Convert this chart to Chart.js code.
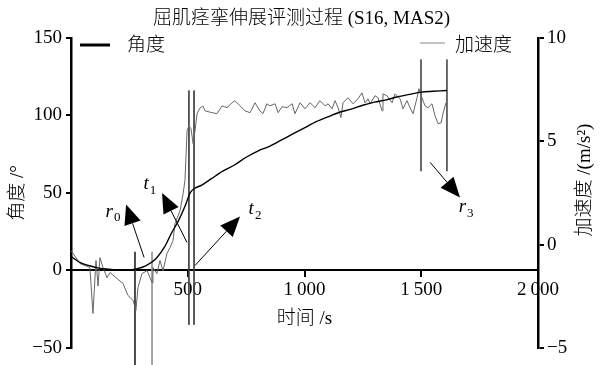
<!DOCTYPE html>
<html>
<head>
<meta charset="utf-8">
<script src="https://cdn.jsdelivr.net/npm/chart.js@4.4.1/dist/chart.umd.min.js"></script>
<style>
  body { margin: 0; background: #fff; }
  #wrap { width: 603px; height: 365px; }
</style>
</head>
<body>
<div id="wrap"><canvas id="myChart"></canvas></div>
<script>
const chartTitle = "屈肌痉挛伸展评测过程 (S16, MAS2)";
const xTitle = "时间 /s";
const yTitle = "角度 /°";
const y2Title = "加速度 /(m/s²)";
const angleLabel = "角度";
const accLabel = "加速度";

// angle curve (time s, degrees)
const angleT = [0, 40, 80, 120, 160, 200, 240, 280, 320, 360, 400, 430, 460, 490, 510, 530, 560, 600, 650, 700, 750, 800, 850, 900, 950, 1000, 1050, 1100, 1150, 1200, 1250, 1300, 1350, 1400, 1450, 1500, 1550, 1610];
const angleV = [9, 5, 3, 1.5, 0.8, 0.3, 0.2, 1, 3, 7, 15, 24, 32, 42, 50, 53, 55, 59, 64, 68, 73, 77, 80, 84, 88, 92, 96, 99, 102, 104, 106.5, 108.5, 110, 112, 113.5, 115, 115.5, 116];

// acceleration (time s, m/s^2)
const accT = [0, 39, 81, 94, 107, 116, 124, 137, 154, 167, 197, 223, 244, 266, 278, 287, 304, 326, 347, 351, 368, 381, 394, 411, 424, 437, 445, 467, 480, 488, 497, 505, 514, 523, 531, 540, 552, 565, 574, 604, 625, 647, 668, 690, 702, 724, 745, 767, 788, 809, 822, 839, 852, 874, 887, 904, 925, 947, 959, 981, 1002, 1024, 1045, 1066, 1088, 1101, 1118, 1131, 1144, 1156, 1165, 1186, 1208, 1229, 1246, 1259, 1272, 1281, 1302, 1315, 1332, 1336, 1353, 1375, 1388, 1409, 1422, 1439, 1452, 1465, 1482, 1490, 1503, 1516, 1529, 1546, 1559, 1572, 1585, 1593, 1606];
const accV = [-0.29, -0.92, -1.11, -3.33, -0.77, -2.0, -0.63, -1.11, -1.6, -1.35, -1.64, -1.88, -2.46, -2.7, -3.19, -2.08, -1.4, -1.26, -1.84, -1.11, -1.4, -0.77, -1.26, -0.43, -0.14, 0.19, 1.01, 1.64, 2.46, 3.09, 5.5, 5.75, 5.6, 4.88, 5.5, 6.33, 6.6, 6.7, 6.47, 6.38, 6.33, 6.71, 6.62, 6.86, 6.96, 6.71, 6.47, 6.38, 6.86, 6.47, 6.33, 6.81, 6.71, 6.81, 6.38, 6.67, 6.62, 6.81, 6.33, 6.86, 6.57, 6.86, 6.62, 6.96, 6.71, 6.81, 6.57, 6.96, 6.62, 6.14, 6.86, 7.1, 6.81, 7.05, 7.34, 6.86, 7.05, 6.81, 7.2, 7.1, 6.47, 7.29, 7.2, 6.86, 7.29, 7.05, 6.57, 6.96, 6.62, 6.33, 7.1, 7.54, 7.1, 6.71, 6.62, 6.81, 6.23, 5.85, 5.89, 6.33, 6.86];

// vertical marker lines (time, top and bottom in degrees)
const markT = [274, 347, 505, 527, 1499, 1610];
const markTop = [12, 12, 116, 116, 136, 136];
const markBottom = [-61, -61, -35, -35, 64, 64];
const markColors = ["#333", "#999", "#444", "#444", "#555", "#555"];

// arrows: tail, tip and label centre (time, degrees)
const arrowTail = [[313, 8.4], [497, 18], [531, 3.2], [1538, 69.7]];
const arrowTip = [[236, 42.6], [390, 50], [724, 34.8], [1666, 47]];
const arrowText = [["r", "0"], ["t", "1"], ["t", "2"], ["r", "3"]];
const arrowTextAt = [[180, 38], [338, 55.5], [788, 39.4], [1692, 40.6]];

const xTickLabels = { 0: "", 500: "500", 1000: "1\u2009000", 1500: "1\u2009500", 2000: "2\u2009000" };

const serif = '"Liberation Serif", "Noto Sans CJK SC", serif';
const minus = (v) => (v < 0 ? "\u2212" + -v : String(v));

const datasets = [
  {
    label: angleLabel,
    data: angleT.map((t, i) => ({ x: t, y: angleV[i] })),
    borderColor: "#000",
    borderWidth: 1.4,
    pointRadius: 0,
    tension: 0.3,
    yAxisID: "y",
  },
  {
    label: accLabel,
    data: accT.map((t, i) => ({ x: t, y: accV[i] })),
    borderColor: "#666",
    borderWidth: 1,
    pointRadius: 0,
    tension: 0,
    yAxisID: "y2",
  },
];

markT.forEach((t, i) => {
  datasets.push({
    label: "mark" + i,
    data: [{ x: t, y: markTop[i] }, { x: t, y: markBottom[i] }],
    borderColor: markColors[i],
    borderWidth: 1,
    pointRadius: 0,
    clip: false,
    yAxisID: "y",
  });
});

const annotate = {
  id: "annotate",
  afterDatasetsDraw(chart) {
    const { ctx } = chart;
    const x = chart.scales.x, y = chart.scales.y;
    ctx.save();
    ctx.fillStyle = "#000";
    ctx.strokeStyle = "#000";
    arrowTail.forEach((tail, i) => {
      const x0 = x.getPixelForValue(tail[0]), y0 = y.getPixelForValue(tail[1]);
      const x1 = x.getPixelForValue(arrowTip[i][0]), y1 = y.getPixelForValue(arrowTip[i][1]);
      const a = Math.atan2(y1 - y0, x1 - x0);
      const headLen = 20, headW = 8.5;
      const bx = x1 - headLen * Math.cos(a), by = y1 - headLen * Math.sin(a);
      ctx.lineWidth = 1;
      ctx.beginPath();
      ctx.moveTo(x0, y0);
      ctx.lineTo(bx, by);
      ctx.stroke();
      ctx.beginPath();
      ctx.moveTo(x1, y1);
      ctx.lineTo(bx + headW * Math.sin(a), by - headW * Math.cos(a));
      ctx.lineTo(bx - headW * Math.sin(a), by + headW * Math.cos(a));
      ctx.closePath();
      ctx.fill();

      // label with subscript
      const cx = x.getPixelForValue(arrowTextAt[i][0]), cy = y.getPixelForValue(arrowTextAt[i][1]);
      ctx.textBaseline = "middle";
      ctx.textAlign = "left";
      ctx.font = 'italic 19px "Liberation Serif"';
      const w1 = ctx.measureText(arrowText[i][0]).width;
      ctx.font = '13px "Liberation Serif"';
      const w2 = ctx.measureText(arrowText[i][1]).width;
      const sx = cx - (w1 + w2 + 1) / 2;
      ctx.font = 'italic 19px "Liberation Serif"';
      ctx.fillText(arrowText[i][0], sx, cy);
      ctx.font = '13px "Liberation Serif"';
      ctx.fillText(arrowText[i][1], sx + w1 + 1, cy + 6);
    });
    ctx.restore();
  },
  afterDraw(chart) {
    const { ctx } = chart;
    ctx.save();
    // legend
    ctx.strokeStyle = "#000";
    ctx.lineWidth = 3;
    ctx.beginPath();
    ctx.moveTo(80, 45);
    ctx.lineTo(110, 45);
    ctx.stroke();
    ctx.strokeStyle = "#888";
    ctx.lineWidth = 1;
    ctx.beginPath();
    ctx.moveTo(420, 43);
    ctx.lineTo(445, 43);
    ctx.stroke();
    ctx.fillStyle = "#000";
    ctx.font = "300 19px " + serif;
    ctx.textBaseline = "middle";
    ctx.textAlign = "left";
    ctx.fillText(chart.data.datasets[0].label, 127, 46);
    ctx.fillText(chart.data.datasets[1].label, 455, 46);
    // right axis title, reading bottom to top
    ctx.translate(585, 180);
    ctx.rotate(-Math.PI / 2);
    ctx.textAlign = "center";
    ctx.fillText(y2Title, 0, 0);
    ctx.restore();
  },
};

new Chart(document.getElementById("myChart"), {
  type: "line",
  data: { datasets },
  options: {
    responsive: true,
    maintainAspectRatio: false,
    animation: false,
    layout: { padding: { left: 0, right: 0, top: 0, bottom: 17 } },
    plugins: {
      legend: { display: false },
      tooltip: { enabled: false },
      title: {
        display: true,
        text: chartTitle,
        color: "#000",
        font: { family: serif, size: 19, weight: 300 },
        padding: { top: 8, bottom: 7 },
      },
    },
    scales: {
      x: {
        type: "linear",
        min: 0,
        max: 2000,
        position: { y: 0 },
        border: { color: "#000", width: 2 },
        grid: { drawOnChartArea: false, tickLength: 6, color: "#000", lineWidth: 2 },
        ticks: {
          stepSize: 500,
          padding: 2,
          color: "#000",
          maxRotation: 0,
          font: { family: serif, size: 19 },
          callback: (v) => xTickLabels[v] ?? "",
        },
        title: {
          display: true,
          text: xTitle,
          color: "#000",
          font: { family: serif, size: 19, weight: 300 },
          padding: { top: 4, bottom: 4 },
        },
        afterFit: (s) => {
          s.bottom = s.top + s.height;
        },
      },
      y: {
        position: "left",
        min: -50,
        max: 150,
        border: { color: "#000", width: 2.5 },
        grid: { drawOnChartArea: false, tickLength: 5, color: "#000", lineWidth: 2 },
        ticks: {
          stepSize: 50,
          padding: 4,
          color: "#000",
          font: { family: serif, size: 19 },
          callback: (v) => minus(v),
        },
        title: {
          display: true,
          text: yTitle,
          color: "#000",
          font: { family: serif, size: 19, weight: 300 },
          padding: { top: 7, bottom: 0 },
        },
        afterFit: (s) => {
          s.width = 71;
        },
      },
      y2: {
        position: "right",
        min: -5,
        max: 10,
        border: { color: "#000", width: 2.5 },
        grid: { drawOnChartArea: false, tickLength: 6, color: "#000", lineWidth: 2 },
        ticks: {
          stepSize: 5,
          padding: 3,
          color: "#000",
          font: { family: serif, size: 19 },
          callback: (v) => minus(v),
        },
        afterFit: (s) => {
          s.width = 65;
        },
      },
    },
  },
  plugins: [annotate],
});
</script>
</body>
</html>
